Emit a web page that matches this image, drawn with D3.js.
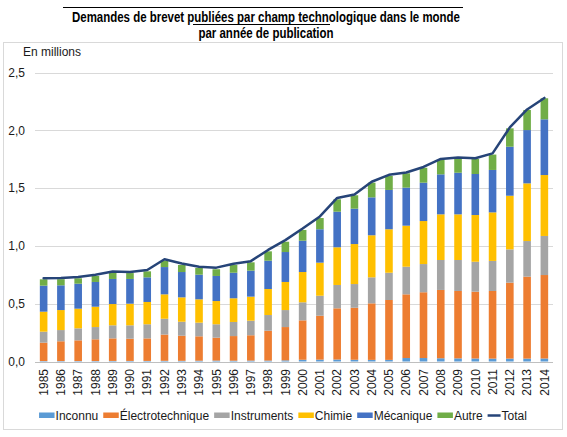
<!DOCTYPE html>
<html><head><meta charset="utf-8">
<script src="https://cdn.jsdelivr.net/npm/d3@7"></script>
<style>
html,body{margin:0;padding:0;background:#fff;}
svg{display:block;font-family:"Liberation Sans",Arial,sans-serif;}
</style></head>
<body>
<svg id="chart" width="567" height="437"></svg>
<script>
const years = ["1985","1986","1987","1988","1989","1990","1991","1992","1993","1994","1995","1996","1997","1998","1999","2000","2001","2002","2003","2004","2005","2006","2007","2008","2009","2010","2011","2012","2013","2014"];
const seriesNames = ["Inconnu","Électrotechnique","Instruments","Chimie","Mécanique","Autre"];
const seriesColors = ["#5B9BD5","#ED7D31","#A5A5A5","#FFC000","#4472C4","#70AD47"];
const inconnu = [0.004,0.004,0.004,0.004,0.005,0.005,0.005,0.006,0.006,0.007,0.008,0.007,0.008,0.008,0.010,0.015,0.016,0.017,0.015,0.014,0.014,0.030,0.030,0.028,0.027,0.026,0.025,0.025,0.025,0.026];
const electrotechnique = [0.159,0.171,0.179,0.188,0.195,0.192,0.195,0.227,0.217,0.211,0.198,0.213,0.219,0.258,0.288,0.341,0.380,0.443,0.450,0.489,0.518,0.551,0.569,0.591,0.583,0.578,0.585,0.657,0.709,0.722];
const instruments = [0.095,0.097,0.104,0.106,0.113,0.116,0.122,0.137,0.121,0.118,0.116,0.122,0.126,0.136,0.147,0.156,0.173,0.202,0.205,0.225,0.236,0.239,0.244,0.259,0.268,0.259,0.260,0.288,0.308,0.338];
const chimie = [0.173,0.173,0.170,0.176,0.184,0.187,0.193,0.211,0.211,0.202,0.201,0.205,0.208,0.225,0.243,0.262,0.286,0.326,0.346,0.364,0.376,0.355,0.372,0.395,0.395,0.404,0.420,0.464,0.499,0.527];
const mecanique = [0.225,0.214,0.216,0.214,0.217,0.214,0.213,0.236,0.219,0.213,0.217,0.221,0.225,0.245,0.259,0.271,0.289,0.308,0.306,0.328,0.340,0.329,0.332,0.346,0.360,0.355,0.367,0.424,0.461,0.482];
const autre = [0.055,0.053,0.047,0.052,0.054,0.051,0.052,0.055,0.061,0.058,0.058,0.067,0.072,0.081,0.089,0.093,0.097,0.107,0.116,0.127,0.121,0.124,0.129,0.124,0.125,0.130,0.133,0.159,0.174,0.182];
const total = [0.720,0.722,0.730,0.750,0.778,0.775,0.792,0.885,0.848,0.820,0.812,0.845,0.868,0.965,1.050,1.150,1.255,1.415,1.445,1.555,1.615,1.635,1.683,1.752,1.765,1.758,1.800,2.025,2.180,2.280];
const yTicks = [0,0.5,1.0,1.5,2.0,2.5];
const titleLines = ["Demandes de brevet publiées par champ technologique dans le monde","par année de publication"];
const unitLabel = "En millions";

const svg = d3.select("#chart");
const textColor = "#1a1a1a";

// chart border
svg.append("rect").attr("x",3.5).attr("y",42.5).attr("width",559).attr("height",387)
  .attr("fill","none").attr("stroke","#d9d9d9").attr("stroke-width",1);

// title (condensed bold, like Arial Narrow)
svg.append("line").attr("x1",63).attr("x2",463).attr("y1",7.5).attr("y2",7.5).attr("stroke","#000").attr("stroke-width",1);
const tg = svg.append("g").attr("font-family","'Liberation Sans',Arial,sans-serif").attr("font-weight","bold").attr("fill","#000").attr("font-size",14);
const t1 = tg.append("text").attr("x",266).attr("y",21.5).attr("text-anchor","middle").text(titleLines[0]);
const nat1 = t1.node().getComputedTextLength();
const ratio = 388/nat1;
t1.attr("textLength",388).attr("lengthAdjust","spacingAndGlyphs");
const t2 = tg.append("text").attr("x",266).attr("y",37.5).attr("text-anchor","middle").text(titleLines[1]);
const nat2 = t2.node().getComputedTextLength();
t2.attr("textLength",nat2*ratio).attr("lengthAdjust","spacingAndGlyphs");
svg.append("line").attr("x1",193).attr("x2",330).attr("y1",24.5).attr("y2",24.5).attr("stroke","#000").attr("stroke-width",1);

// scales
const x = d3.scaleBand().domain(years).range([35,553]).paddingInner(0.56).paddingOuter(0.28);
const y = d3.scaleLinear().domain([0,2.5]).range([361.5,72.5]);

// gridlines
svg.append("g").selectAll("line").data(yTicks).join("line")
  .attr("x1",35).attr("x2",553)
  .attr("y1",d=>Math.round(y(d))+0.5).attr("y2",d=>Math.round(y(d))+0.5)
  .attr("stroke",d=>d===0?"#bfbfbf":"#d9d9d9").attr("stroke-width",1);

// y axis labels
const yAxis = d3.axisLeft(y).tickValues(yTicks).tickSize(0).tickPadding(0)
  .tickFormat(d=>d3.format(".1f")(d).replace(".",","));
const yg = svg.append("g").attr("transform","translate(25,0)").call(yAxis);
yg.select(".domain").remove();
yg.selectAll("text").attr("font-size",12).attr("fill",textColor).attr("font-family","'Liberation Sans',Arial,sans-serif");

svg.append("text").attr("x",23).attr("y",56).attr("font-size",12).attr("fill",textColor).text(unitLabel);

// stacked bars
const rows = years.map((yr,i)=>({year:yr, "Inconnu":inconnu[i], "Électrotechnique":electrotechnique[i], "Instruments":instruments[i], "Chimie":chimie[i], "Mécanique":mecanique[i], "Autre":autre[i]}));
const stack = d3.stack().keys(seriesNames)(rows);
svg.append("g").selectAll("g").data(stack).join("g")
  .attr("fill",(d,i)=>seriesColors[i])
  .selectAll("rect").data(d=>d).join("rect")
  .attr("x",d=>x(d.data.year)).attr("width",x.bandwidth())
  .attr("y",d=>y(d[1])).attr("height",d=>y(d[0])-y(d[1]));

// total line
const line = d3.line().x((d,i)=>x(years[i])+x.bandwidth()/2).y(d=>y(d));
svg.append("path").datum(total).attr("d",line).attr("fill","none")
  .attr("stroke","#264478").attr("stroke-width",2.5).attr("stroke-linejoin","round").attr("stroke-linecap","round");

// x axis labels
const xAxis = d3.axisBottom(x).tickSize(0).tickPadding(0);
const xg = svg.append("g").attr("transform","translate(0,369)").call(xAxis);
xg.select(".domain").remove();
xg.selectAll("text").attr("font-size",12).attr("fill",textColor).attr("font-family","'Liberation Sans',Arial,sans-serif")
  .attr("transform","rotate(-90)").attr("text-anchor","end").attr("x",0).attr("y",0).attr("dy","0.35em");

// legend
const legendItems = seriesNames.map((n,i)=>({name:n,color:seriesColors[i],type:"rect"})).concat([{name:"Total",color:"#264478",type:"line"}]);
const lg = svg.append("g");
let cx = 0;
legendItems.forEach(it=>{
  const g = lg.append("g").attr("transform",`translate(${cx},0)`);
  if(it.type==="rect"){
    g.append("rect").attr("x",0).attr("y",-3).attr("width",15.5).attr("height",5.5).attr("fill",it.color);
  } else {
    g.append("line").attr("x1",0).attr("x2",13).attr("y1",0).attr("y2",0).attr("stroke",it.color).attr("stroke-width",2.5);
  }
  const sw = it.type==="rect"?16.5:14;
  const t = g.append("text").attr("x",sw).attr("y",0).attr("dy","0.35em").attr("font-size",12).attr("fill",textColor).text(it.name);
  cx += sw + t.node().getComputedTextLength() + 5;
});
const lw = cx - 5;
lg.attr("transform",`translate(${283 - lw/2},415.5)`);
</script>
</body></html>
